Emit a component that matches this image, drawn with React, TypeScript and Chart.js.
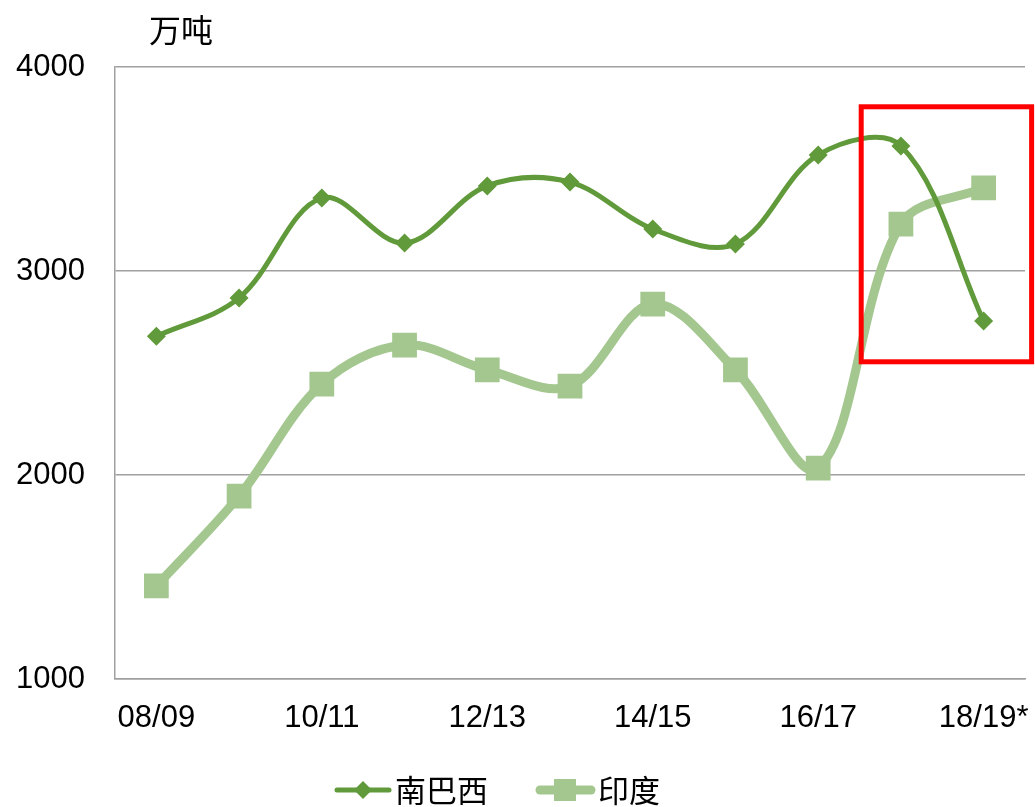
import React, { useEffect, useRef } from "react";
import { Chart, registerables } from "chart.js";

Chart.register(...registerables);

const categories = ["08/09", "09/10", "10/11", "11/12", "12/13", "13/14", "14/15", "15/16", "16/17", "17/18", "18/19*"];
const southBrazil = [2680, 2868, 3358, 3137, 3417, 3436, 3206, 3132, 3569, 3613, 2755];
const india = [1456, 1897, 2446, 2637, 2515, 2436, 2838, 2515, 2034, 3230, 3407];
const seriesNames = ["南巴西", "印度"];
const unitLabel = "万吨";
const yTicks = [1000, 2000, 3000, 4000];
const highlightRange = { fromIndex: 8.52, toIndex: 10.58, top: 3805, bottom: 2555 };

const DARK = "rgb(96,154,58)";
const LIGHT = "rgb(163,199,143)";
const FONT = "'Liberation Sans', Arial, sans-serif";
const CJK = "'Noto Sans CJK SC', sans-serif";

const overlayPlugin = {
  id: "overlay",
  afterDraw(chart: any) {
    const ctx = chart.ctx;
    const xs = chart.scales.x;
    const ys = chart.scales.y;
    ctx.save();
    // unit label
    ctx.fillStyle = "#000";
    ctx.font = `32px ${CJK}`;
    ctx.textAlign = "center";
    ctx.textBaseline = "middle";
    ctx.fillText(unitLabel, 181, 30);

    // highlight rectangle
    const l = xs.getPixelForValue(highlightRange.fromIndex);
    const r = xs.getPixelForValue(highlightRange.toIndex);
    const t = ys.getPixelForValue(highlightRange.top);
    const b = ys.getPixelForValue(highlightRange.bottom);
    ctx.strokeStyle = "#ff0000";
    ctx.lineWidth = 5;
    ctx.strokeRect(l, t, r - l, b - t);

    // legend
    const ly = 790;
    ctx.lineCap = "round";
    // item 1
    ctx.strokeStyle = DARK;
    ctx.lineWidth = 5;
    ctx.beginPath();
    ctx.moveTo(337, ly);
    ctx.lineTo(389, ly);
    ctx.stroke();
    ctx.fillStyle = DARK;
    ctx.beginPath();
    ctx.moveTo(363 - 9, ly);
    ctx.lineTo(363, ly - 9);
    ctx.lineTo(363 + 9, ly);
    ctx.lineTo(363, ly + 9);
    ctx.closePath();
    ctx.fill();
    ctx.fillStyle = "#000";
    ctx.font = `31px ${CJK}`;
    ctx.textAlign = "left";
    ctx.textBaseline = "middle";
    ctx.fillText(seriesNames[0], 395, ly);
    // item 2
    ctx.strokeStyle = LIGHT;
    ctx.lineWidth = 9;
    ctx.beginPath();
    ctx.moveTo(540, ly);
    ctx.lineTo(591, ly);
    ctx.stroke();
    ctx.fillStyle = LIGHT;
    ctx.fillRect(565 - 11, ly - 11, 22, 22);
    ctx.fillStyle = "#000";
    ctx.fillText(seriesNames[1], 598, ly);
    ctx.restore();
  },
};

export default function App() {
  const ref = useRef<HTMLCanvasElement>(null);
  useEffect(() => {
    document.body.style.margin = "0";
    const chart = new Chart(ref.current as HTMLCanvasElement, {
      type: "line",
      data: {
        labels: categories,
        datasets: [
          {
            label: seriesNames[0],
            data: southBrazil,
            borderColor: DARK,
            backgroundColor: DARK,
            borderWidth: 5,
            pointStyle: "rectRot",
            pointRadius: 9.5,
            pointBorderWidth: 0,
            tension: 0.35,
          },
          {
            label: seriesNames[1],
            data: india,
            borderColor: LIGHT,
            backgroundColor: LIGHT,
            borderWidth: 9,
            pointStyle: "rect",
            pointRadius: 17.5,
            pointBorderWidth: 0,
            tension: 0.35,
          },
        ],
      },
      options: {
        animation: false,
        responsive: false,
        layout: { autoPadding: false, padding: { left: 0, right: 10, top: 67, bottom: 0 } },
        plugins: { legend: { display: false }, tooltip: { enabled: false } },
        scales: {
          x: {
            offset: true,
            grid: { display: false, drawTicks: false },
            border: { color: "#a0a0a0", width: 1.5 },
            ticks: {
              autoSkip: false,
              maxRotation: 0,
              padding: 21,
              color: "#000",
              font: { family: FONT, size: 31 },
              callback: (_v: any, i: number) => (i % 2 === 0 ? categories[i] : ""),
            },
            afterFit: (s: any) => {
              s.height = 128;
              s.paddingLeft = 0;
              s.paddingRight = 0;
            },
          },
          y: {
            min: 1000,
            max: 4000,
            afterBuildTicks: (s: any) => {
              s.ticks = yTicks.map((v) => ({ value: v }));
            },
            grid: { color: "#a0a0a0", lineWidth: 1.5, drawTicks: false },
            border: { color: "#a0a0a0", width: 1.5 },
            ticks: {
              padding: 30,
              color: "#000",
              font: { family: FONT, size: 31 },
              callback: (v: any) => String(v),
            },
            afterFit: (s: any) => {
              s.width = 115;
              s.paddingTop = 0;
              s.paddingBottom = 0;
            },
          },
        },
      },
      plugins: [overlayPlugin],
    });
    return () => chart.destroy();
  }, []);
  return <canvas ref={ref} width={1035} height={807} style={{ display: "block" }} />;
}
